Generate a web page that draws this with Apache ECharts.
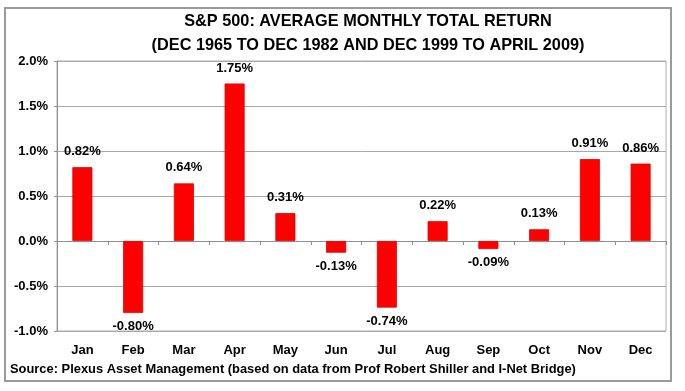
<!DOCTYPE html>
<html>
<head>
<meta charset="utf-8">
<script src="https://cdn.jsdelivr.net/npm/echarts@6/dist/echarts.min.js"></script>
<style>
html,body{margin:0;padding:0;background:#fff;}
#chart{width:685px;height:391px;}
</style>
</head>
<body>
<div id="chart"></div>
<script>
var months = ['Jan','Feb','Mar','Apr','May','Jun','Jul','Aug','Sep','Oct','Nov','Dec'];
var avgReturn = [0.82, -0.80, 0.64, 1.75, 0.31, -0.13, -0.74, 0.22, -0.09, 0.13, 0.91, 0.86];
var yTicks = [-1.0, -0.5, 0.0, 0.5, 1.0, 1.5, 2.0];
var titleLines = ['S&P 500: AVERAGE MONTHLY TOTAL RETURN', '(DEC 1965 TO DEC 1982 AND DEC 1999 TO APRIL 2009)'];
var sourceText = 'Source: Plexus Asset Management (based on data from Prof Robert Shiller and I-Net Bridge)';

var FONT = '"Liberation Sans", Arial, sans-serif';
var chart = echarts.init(document.getElementById('chart'), null, {renderer: 'canvas'});

var barData = avgReturn.map(function (v) {
  return {
    value: v,
    label: {
      position: v >= 0 ? 'top' : 'bottom',
      distance: v >= 0 ? 9 : 7
    }
  };
});

chart.setOption({
  animation: false,
  backgroundColor: '#fff',
  title: {
    text: titleLines.join('\n'),
    left: 363,
    top: 5,
    textAlign: 'center',
    textStyle: {fontFamily: FONT, fontSize: 16.3, fontWeight: 'bold', color: '#000', lineHeight: 24}
  },
  graphic: [
    {type: 'rect', shape: {x: 5, y: 8, width: 666, height: 373}, style: {fill: 'none', stroke: '#9a9a9a', lineWidth: 2}, z: 100},
    {type: 'text', left: 10, top: 363, style: {text: sourceText, font: 'bold 12.9px ' + FONT, fill: '#000'}}
  ],
  grid: {left: 57, right: 19, top: 61, bottom: 60, show: true, borderColor: '#b0b0b0', borderWidth: 1},
  xAxis: [
    {
      type: 'category', data: months, position: 'bottom',
      axisLine: {show: true, onZero: true, lineStyle: {color: '#909090'}},
      axisTick: {show: true, length: 4, inside: false, lineStyle: {color: '#909090'}},
      axisLabel: {show: false}
    },
    {
      type: 'category', data: months, position: 'bottom',
      axisLine: {show: false}, axisTick: {show: false},
      axisLabel: {show: true, margin: 13, fontFamily: FONT, fontSize: 13, fontWeight: 'bold', color: '#000'}
    }
  ],
  yAxis: {
    type: 'value', min: yTicks[0], max: yTicks[yTicks.length - 1], interval: 0.5,
    axisLine: {show: true, lineStyle: {color: '#909090'}},
    axisTick: {show: true, length: 3, lineStyle: {color: '#909090'}},
    splitLine: {show: true, lineStyle: {color: '#a8a8a8', width: 1}},
    axisLabel: {margin: 9, fontFamily: FONT, fontSize: 13, fontWeight: 'bold', color: '#000',
      formatter: function (v) { return v.toFixed(1) + '%'; }}
  },
  series: [{
    type: 'bar', xAxisIndex: 0, data: barData, barWidth: 20,
    itemStyle: {color: '#ff0000', borderColor: '#e00000', borderWidth: 0.8},
    label: {show: true, fontFamily: FONT, fontSize: 13, fontWeight: 'bold', color: '#000',
      formatter: function (p) { return p.value.toFixed(2) + '%'; }}
  }]
});
</script>
</body>
</html>
